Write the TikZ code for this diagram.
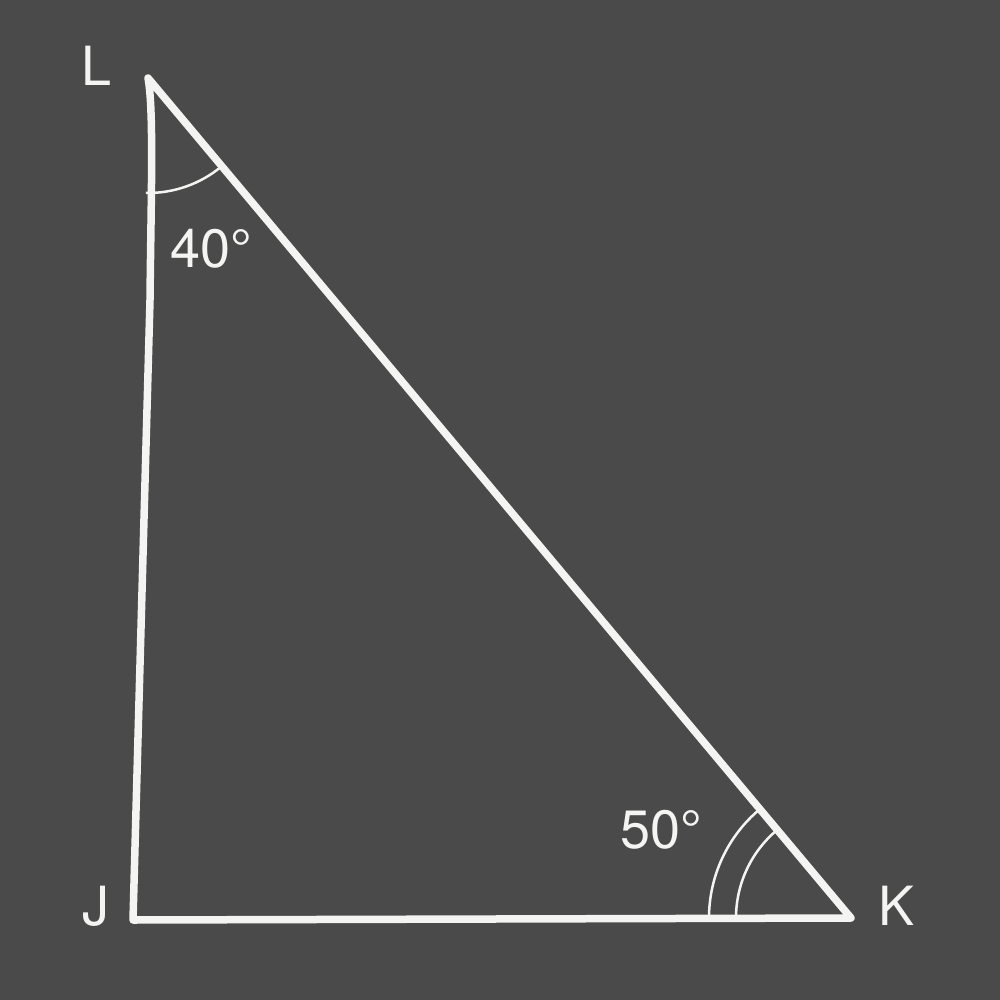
\documentclass[tikz,border=0pt]{standalone}
\usepackage{fontspec}
\setmainfont{TeX Gyre Heros}
\usetikzlibrary{calc}
\definecolor{bg}{HTML}{4A4A4A}
\definecolor{chalk}{HTML}{F4F4F2}
\begin{document}
\begin{tikzpicture}[x=1pt,y=-1pt,
  side/.style={draw=chalk,line width=7.5pt,line join=round,line cap=round},
  anglemark/.style={draw=chalk,line width=2.5pt},
  lbl/.style={text=chalk,font=\fontsize{54}{56}\selectfont,inner sep=0pt}]
\fill[bg] (0,0) rectangle (1000,1000);
\useasboundingbox (0,0) rectangle (1000,1000);
\coordinate (L) at (148,78);
\coordinate (J) at (133,920);
\coordinate (K) at (851,918);
\draw[side] (L) .. controls (154,110) and (151,200) .. (150,300) -- (J) -- (K) -- cycle;
\draw[anglemark] ($(L)+(91:115)$) arc[start angle=91,end angle=50.1,radius=115];
\draw[anglemark] ($(K)+(180:142)$) arc[start angle=180,end angle=230.1,radius=142];
\draw[anglemark] ($(K)+(180:115)$) arc[start angle=180,end angle=230.1,radius=115];
\node[lbl] (tL) at (97,66) {L};
\node[lbl] (tJ) at (96,906) {J};
\node[lbl] (tK) at (896,906) {K};
\node[lbl] (a40) at (211,249) {40°};
\node[lbl] (a50) at (661,830) {50°};
\end{tikzpicture}
\end{document}
